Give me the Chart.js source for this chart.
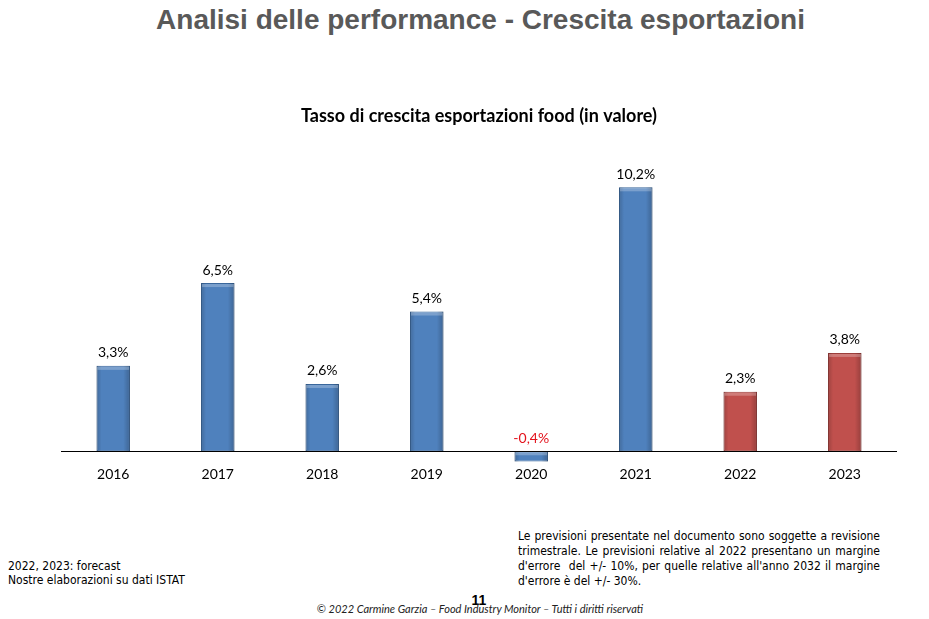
<!DOCTYPE html>
<html>
<head>
<meta charset="utf-8">
<script src="https://cdn.jsdelivr.net/npm/chart.js@4.4.0/dist/chart.umd.min.js"></script>
<style>
  body { margin: 0; width: 929px; height: 619px; background: #fff; position: relative; overflow: hidden; font-family: "Liberation Sans", Arial, sans-serif; }
  #head { position: absolute; top: 4px; left: 0; width: 961px; text-align: center; font-weight: bold; font-size: 28px; color: #595959; }
  #wrap { position: absolute; left: 0; top: 89px; width: 929px; height: 402px; }
  .note { position: absolute; font-family: "Liberation Sans Narrow", "DejaVu Sans Condensed", sans-serif; font-size: 12px; color: #000; line-height: 14px; }
  #left { left: 8px; top: 559px; }
  #right { left: 518px; top: 529px; width: 362px; text-align: justify; line-height: 15px; }
  #page { position: absolute; top: 593px; left: 0; width: 958px; text-align: center; font-weight: bold; font-size: 14px; line-height: 14px; }
  #copy { position: absolute; top: 602px; left: 0; width: 960px; text-align: center; font-family: Lato, sans-serif; font-style: italic; font-size: 11px; color: #222; }
</style>
</head>
<body>
<div id="head">Analisi delle performance - Crescita esportazioni</div>
<div id="wrap"><canvas id="chart"></canvas></div>
<div class="note" id="left">2022, 2023: forecast<br>Nostre elaborazioni su dati ISTAT</div>
<div class="note" id="right">Le previsioni presentate nel documento sono soggette a revisione trimestrale. Le previsioni relative al 2022 presentano un margine d'errore&nbsp; del +/- 10%, per quelle relative all'anno 2032 il margine d'errore è del +/- 30%.</div>
<div id="page">11</div>
<div id="copy">© 2022 Carmine Garzia – Food Industry Monitor – Tutti i diritti riservati</div>
<script>
// dati
const anni = ['2016', '2017', '2018', '2019', '2020', '2021', '2022', '2023'];
const crescita = [3.3, 6.5, 2.6, 5.4, -0.4, 10.2, 2.3, 3.8];
const previsione = [false, false, false, false, false, false, true, true];

const blu = '#4f81bd', bluBordo = '#3a679c';
const rosso = '#c0504d', rossoBordo = '#9a3b38';

// effetto rilievo sulle barre
const rilievo = {
    id: 'rilievo',
    afterDatasetsDraw(chart) {
        const ctx = chart.ctx;
        ctx.save();
        chart.getDatasetMeta(0).data.forEach(bar => {
            const w = bar.width;
            const x0 = bar.x - w / 2;
            const top = Math.min(bar.y, bar.base);
            const h = Math.abs(bar.base - bar.y);
            const g = ctx.createLinearGradient(x0, 0, x0 + w, 0);
            g.addColorStop(0, 'rgba(0,0,0,0.18)');
            g.addColorStop(0.15, 'rgba(0,0,0,0)');
            g.addColorStop(0.8, 'rgba(0,0,0,0)');
            g.addColorStop(1, 'rgba(0,0,0,0.22)');
            ctx.fillStyle = g;
            ctx.fillRect(x0, top, w, h);
            ctx.fillStyle = 'rgba(255,255,255,0.25)';
            ctx.fillRect(x0 + 1, top + 1, w - 2, Math.min(3, h - 1));
        });
        ctx.restore();
    }
};

// etichette sopra le barre e linea dello zero
const etichette = {
    id: 'etichette',
    afterDatasetsDraw(chart) {
        const ctx = chart.ctx;
        const y = chart.scales.y;
        const area = chart.chartArea;
        const y0 = y.getPixelForValue(0);
        ctx.save();
        ctx.strokeStyle = '#000';
        ctx.lineWidth = 1;
        ctx.beginPath();
        ctx.moveTo(area.left, Math.round(y0) + 0.5);
        ctx.lineTo(area.right, Math.round(y0) + 0.5);
        ctx.stroke();
        ctx.font = '14px Lato, "Open Sans", sans-serif';
        ctx.textAlign = 'center';
        ctx.textBaseline = 'bottom';
        chart.getDatasetMeta(0).data.forEach((bar, i) => {
            const v = crescita[i];
            const top = Math.min(bar.y, y0);
            ctx.fillStyle = v < 0 ? '#e3121c' : '#000';
            ctx.fillText(v.toFixed(1).replace('.', ',') + '%', bar.x, top - 6);
        });
        ctx.restore();
    }
};

new Chart(document.getElementById('chart'), {
    type: 'bar',
    data: {
        labels: anni,
        datasets: [{
            data: crescita,
            backgroundColor: previsione.map(p => p ? rosso : blu),
            borderColor: previsione.map(p => p ? rossoBordo : bluBordo),
            borderWidth: 1,
            borderSkipped: false,
            categoryPercentage: 1,
            barPercentage: 0.32
        }]
    },
    options: {
        responsive: true,
        maintainAspectRatio: false,
        animation: false,
        layout: { padding: { left: 61, right: 32, bottom: 6 } },
        scales: {
            y: {
                display: false,
                min: -0.5,
                max: 11
            },
            x: {
                grid: { display: false, drawTicks: false },
                border: { display: false },
                ticks: {
                    color: '#000',
                    padding: 2,
                    font: { family: 'Lato, "Open Sans", sans-serif', size: 14 }
                }
            }
        },
        plugins: {
            legend: { display: false },
            tooltip: { enabled: false },
            title: {
                display: true,
                text: 'Tasso di crescita esportazioni food (in valore)',
                color: '#000',
                font: { family: 'Lato, "Open Sans", sans-serif', size: 18, weight: 'bold' },
                padding: { top: 16, bottom: 40 }
            }
        }
    },
    plugins: [rilievo, etichette]
});
</script>
</body>
</html>
